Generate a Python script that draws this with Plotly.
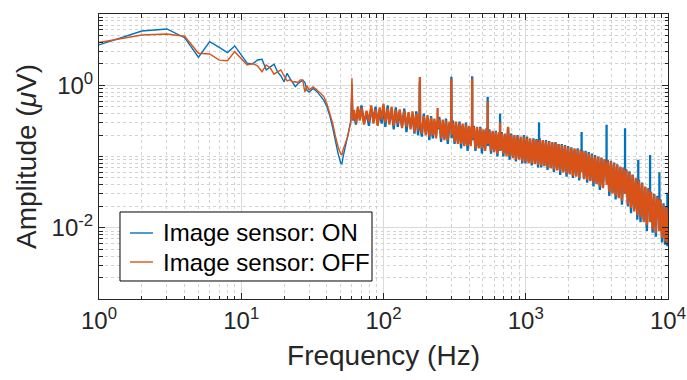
import plotly.graph_objects as go

# ---------------- data ----------------
freq_low = [1, 2, 3, 4, 5, 6, 7, 8, 9, 10,
            11, 12, 13, 14, 15, 16, 17, 18, 19, 20,
            21, 22, 23, 24, 25, 26, 27, 28, 29, 30,
            32, 34, 36, 38, 40, 42, 44, 46, 48, 50,
            51, 52, 54, 56, 58, 59, 60, 61]
on_low = [3.68, 5.78, 6.16, 4.65, 2.47, 4.09, 3.39, 2.87, 3.56, 2.66,
          2.04, 1.99, 2.26, 2.32, 1.64, 1.81, 1.97, 1.54, 1.35, 1.12,
          1.47, 1.25, 1.08, 0.955, 1.05, 1.12, 1.18, 1.10, 0.85, 0.80,
          0.90, 0.82, 0.72, 0.62, 0.50, 0.37, 0.25, 0.16, 0.109, 0.081,
          0.079, 0.099, 0.14, 0.18, 0.25, 0.31, 1.05, 0.32]
off_low = [3.98, 5.08, 5.24, 4.87, 2.81, 2.75, 2.25, 2.21, 2.96, 2.35,
           1.93, 2.02, 1.87, 1.55, 1.93, 1.75, 1.43, 1.54, 1.64, 1.35,
           1.15, 1.19, 1.11, 1.12, 1.09, 1.19, 1.19, 0.81, 0.98, 0.86,
           0.95, 0.86, 0.78, 0.70, 0.55, 0.41, 0.29, 0.19, 0.136, 0.109,
           0.106, 0.125, 0.15, 0.19, 0.27, 0.33, 1.26, 0.33]

freq_high = [61, 62, 64, 66, 68, 70, 73, 76, 79, 82, 85,
             88, 91, 94, 97, 100, 103, 107, 110, 114, 118,
             122, 126, 130, 135, 140, 145, 150, 155, 160, 165,
             170, 175, 179, 180, 181, 186, 192, 198, 204, 210,
             216, 222, 228, 234, 239, 240, 241, 247, 254, 261,
             268, 275, 283, 291, 299, 300, 301, 308, 316, 324,
             333, 342, 351, 360, 370, 380, 390, 400, 410, 419,
             420, 421, 432, 443, 455, 467, 479, 492, 505, 518,
             531, 539, 540, 541, 555, 570, 585, 600, 616, 632,
             648, 659, 660, 661, 678, 696, 714, 733, 751, 770,
             790, 811, 832, 853, 875, 898, 921, 945, 970, 995,
             1021, 1047, 1074, 1102, 1131, 1160, 1190, 1221, 1239, 1240,
             1241, 1253, 1285, 1318, 1352, 1387, 1423, 1460, 1498, 1537,
             1577, 1618, 1660, 1703, 1747, 1792, 1839, 1887, 1936, 1986,
             2038, 2091, 2145, 2201, 2258, 2317, 2377, 2438, 2469, 2470,
             2471, 2501, 2566, 2633, 2701, 2771, 2843, 2917, 2993, 3071,
             3151, 3233, 3317, 3403, 3491, 3582, 3699, 3700, 3701, 3770,
             3868, 3968, 4071, 4177, 4285, 4396, 4510, 4627, 4747, 4870,
             4989, 4990, 4991, 5090, 5222, 5358, 5497, 5640, 5786, 5936,
             6090, 6179, 6180, 6181, 6248, 6410, 6577, 6748, 6923, 7103,
             7287, 7479, 7480, 7481, 7600, 7800, 8000, 8210, 8420, 8699,
             8700, 8701, 8850, 9080, 9300, 9540, 9750, 9899, 9900, 9901,
             10000]
off_high = [0.33, 0.45, 0.30, 0.50, 0.32, 0.48, 0.28, 0.44, 0.31, 0.52, 0.29,
            0.46, 0.27, 0.49, 0.33, 0.55, 0.30, 0.47, 0.28, 0.50, 0.27,
            0.45, 0.29, 0.46, 0.25, 0.44, 0.26, 0.42, 0.24, 0.43, 0.22,
            0.40, 0.23, 0.38, 1.30, 0.30, 0.21, 0.37, 0.20, 0.38, 0.19,
            0.35, 0.20, 0.34, 0.18, 0.30, 0.48, 0.25, 0.33, 0.18, 0.33,
            0.17, 0.32, 0.17, 0.31, 0.26, 1.22, 0.20, 0.30, 0.16, 0.31,
            0.15, 0.29, 0.15, 0.29, 0.14, 0.28, 0.14, 0.27, 0.14, 0.26,
            1.24, 0.18, 0.26, 0.13, 0.26, 0.13, 0.25, 0.13, 0.24, 0.12,
            0.24, 0.20, 0.59, 0.15, 0.23, 0.12, 0.23, 0.115, 0.22, 0.11,
            0.22, 0.17, 0.30, 0.12, 0.21, 0.11, 0.21, 0.10, 0.26, 0.10,
            0.20, 0.095, 0.20, 0.09, 0.19, 0.09, 0.19, 0.085, 0.19, 0.085,
            0.18, 0.08, 0.18, 0.08, 0.175, 0.078, 0.17, 0.077, 0.16, 0.12,
            0.09, 0.17, 0.075, 0.17, 0.073, 0.165, 0.07, 0.16, 0.068, 0.16,
            0.066, 0.155, 0.064, 0.15, 0.062, 0.145, 0.06, 0.14, 0.058, 0.135,
            0.056, 0.13, 0.054, 0.13, 0.052, 0.125, 0.05, 0.12, 0.09, 0.10,
            0.06, 0.12, 0.048, 0.115, 0.047, 0.11, 0.045, 0.105, 0.043, 0.10,
            0.041, 0.098, 0.038, 0.095, 0.036, 0.092, 0.05, 0.08, 0.04, 0.088,
            0.032, 0.085, 0.030, 0.08, 0.028, 0.076, 0.026, 0.072, 0.024, 0.068,
            0.04, 0.06, 0.03, 0.064, 0.021, 0.06, 0.019, 0.055, 0.017, 0.05,
            0.015, 0.04, 0.045, 0.02, 0.046, 0.014, 0.042, 0.012, 0.038, 0.011,
            0.035, 0.02, 0.03, 0.012, 0.032, 0.0095, 0.029, 0.0085, 0.027, 0.012,
            0.025, 0.009, 0.024, 0.0072, 0.021, 0.0065, 0.019, 0.009, 0.015, 0.0062,
            0.013]
on_high = [0.32, 0.40, 0.28, 0.46, 0.35, 0.52, 0.30, 0.40, 0.27, 0.47, 0.33,
           0.50, 0.28, 0.45, 0.29, 0.50, 0.26, 0.52, 0.30, 0.44, 0.24,
           0.49, 0.26, 0.42, 0.27, 0.47, 0.22, 0.40, 0.26, 0.39, 0.21,
           0.43, 0.20, 0.36, 1.10, 0.28, 0.19, 0.40, 0.22, 0.34, 0.17,
           0.37, 0.18, 0.31, 0.20, 0.28, 0.32, 0.24, 0.36, 0.16, 0.30,
           0.18, 0.34, 0.15, 0.29, 0.25, 1.32, 0.18, 0.32, 0.15, 0.28,
           0.16, 0.31, 0.13, 0.27, 0.15, 0.30, 0.12, 0.26, 0.15, 0.24,
           1.34, 0.17, 0.27, 0.12, 0.24, 0.14, 0.26, 0.11, 0.23, 0.13,
           0.25, 0.19, 0.69, 0.14, 0.24, 0.11, 0.22, 0.12, 0.23, 0.10,
           0.21, 0.18, 0.40, 0.12, 0.22, 0.10, 0.20, 0.11, 0.25, 0.09,
           0.21, 0.10, 0.19, 0.085, 0.20, 0.095, 0.18, 0.08, 0.20, 0.08,
           0.19, 0.085, 0.17, 0.075, 0.18, 0.08, 0.175, 0.07, 0.15, 0.30,
           0.10, 0.18, 0.07, 0.165, 0.075, 0.17, 0.065, 0.165, 0.07, 0.155,
           0.06, 0.16, 0.065, 0.15, 0.055, 0.15, 0.062, 0.145, 0.052, 0.14,
           0.058, 0.135, 0.05, 0.125, 0.054, 0.13, 0.046, 0.125, 0.10, 0.22,
           0.07, 0.12, 0.05, 0.12, 0.043, 0.115, 0.046, 0.11, 0.038, 0.105,
           0.042, 0.10, 0.034, 0.097, 0.037, 0.09, 0.06, 0.28, 0.045, 0.09,
           0.028, 0.087, 0.031, 0.082, 0.025, 0.078, 0.027, 0.07, 0.021, 0.07,
           0.05, 0.25, 0.03, 0.066, 0.02, 0.062, 0.016, 0.056, 0.018, 0.048,
           0.013, 0.04, 0.09, 0.02, 0.047, 0.012, 0.043, 0.013, 0.037, 0.009,
           0.036, 0.02, 0.105, 0.012, 0.031, 0.0085, 0.03, 0.0075, 0.028, 0.013,
           0.06, 0.009, 0.025, 0.0062, 0.022, 0.0058, 0.02, 0.009, 0.031, 0.0055,
           0.011]

series_names = ["Image sensor: ON", "Image sensor: OFF"]
series_colors = ["#0072BD", "#D95319"]

x_tick_vals = [1, 10, 100, 1000, 10000]
x_tick_text = ["10<sup>0</sup>", "10<sup>1</sup>", "10<sup>2</sup>", "10<sup>3</sup>", "10<sup>4</sup>"]
y_tick_vals = [0.01, 1]
y_tick_text = ["10<sup>-2</sup>", "10<sup>0</sup>"]

x_title = "Frequency (Hz)"
y_title = "Amplitude (<i>μ</i>V)"

# ---------------- figure ----------------
x_minor = [d * 10 ** k for k in range(0, 4) for d in range(2, 10)]
y_minor = [d * 10.0 ** k for k in range(-3, 1) for d in range(2, 10)] + [0.1]

FONT = "Liberation Sans, Arial, Helvetica, sans-serif"
AX = "#262626"

fig = go.Figure()
parts = [(on_low, on_high), (off_low, off_high)]
for name, color, (lo, hi) in zip(series_names, series_colors, parts):
    fig.add_trace(go.Scatter(x=freq_low, y=lo, mode="lines", name=name,
                             legendgroup=name, showlegend=False,
                             line=dict(color=color, width=1.4)))
    fig.add_trace(go.Scatter(x=freq_high, y=hi, mode="lines", name=name,
                             legendgroup=name, showlegend=False,
                             line=dict(color=color, width=2.3)))

axis_common = dict(
    type="log", automargin=False,
    showline=True, linecolor=AX, linewidth=1, mirror="allticks",
    ticks="inside", ticklen=6, tickcolor=AX, tickwidth=1,
    showgrid=True, gridcolor="#dadada", gridwidth=1,
    tickfont=dict(family=FONT, size=24, color=AX),
    zeroline=False,
)

fig.update_xaxes(
    **axis_common,
    range=[0, 4],
    tickmode="array", tickvals=x_tick_vals, ticktext=x_tick_text,
    minor=dict(tickmode="array", tickvals=x_minor, ticks="inside", ticklen=3.5,
               tickcolor=AX, showgrid=True, gridcolor="#d2d2d2", griddash="dot", gridwidth=1),
    title=dict(text=x_title, font=dict(family=FONT, size=28, color=AX), standoff=12),
)
fig.update_yaxes(
    **axis_common,
    range=[-3, 1],
    tickmode="array", tickvals=y_tick_vals, ticktext=y_tick_text,
    minor=dict(tickmode="array", tickvals=y_minor, ticks="inside", ticklen=3.5,
               tickcolor=AX, showgrid=True, gridcolor="#d2d2d2", griddash="dot", gridwidth=1),
    title=dict(text=y_title, font=dict(family=FONT, size=28, color=AX), standoff=6),
)

# ---- legend drawn as a box with line samples and text labels ----
L_X0, L_X1, L_Y0, L_Y1 = 0.0369, 0.4798, 0.0632, 0.3053
row_y = [0.2316, 0.1298]
sample_x = (0.0545, 0.0949)
text_x = 0.1090
shapes = [dict(type="rect", xref="paper", yref="paper", x0=L_X0, x1=L_X1, y0=L_Y0, y1=L_Y1,
               fillcolor="white", line=dict(color="#000000", width=1), layer="above")]
annotations = []
for name, color, ry in zip(series_names, series_colors, row_y):
    shapes.append(dict(type="line", xref="paper", yref="paper", x0=sample_x[0], x1=sample_x[1],
                       y0=ry, y1=ry, line=dict(color=color, width=1.4), layer="above"))
    annotations.append(dict(text=name, xref="paper", yref="paper", x=text_x, y=ry,
                            xanchor="left", yanchor="middle", showarrow=False,
                            font=dict(family=FONT, size=24, color="#000000")))

fig.update_layout(
    width=687, height=380,
    margin=dict(l=99, r=19, t=14, b=81),
    plot_bgcolor="white", paper_bgcolor="white",
    showlegend=False,
    shapes=shapes, annotations=annotations,
    hovermode=False,
)

fig.write_html("out.html")
